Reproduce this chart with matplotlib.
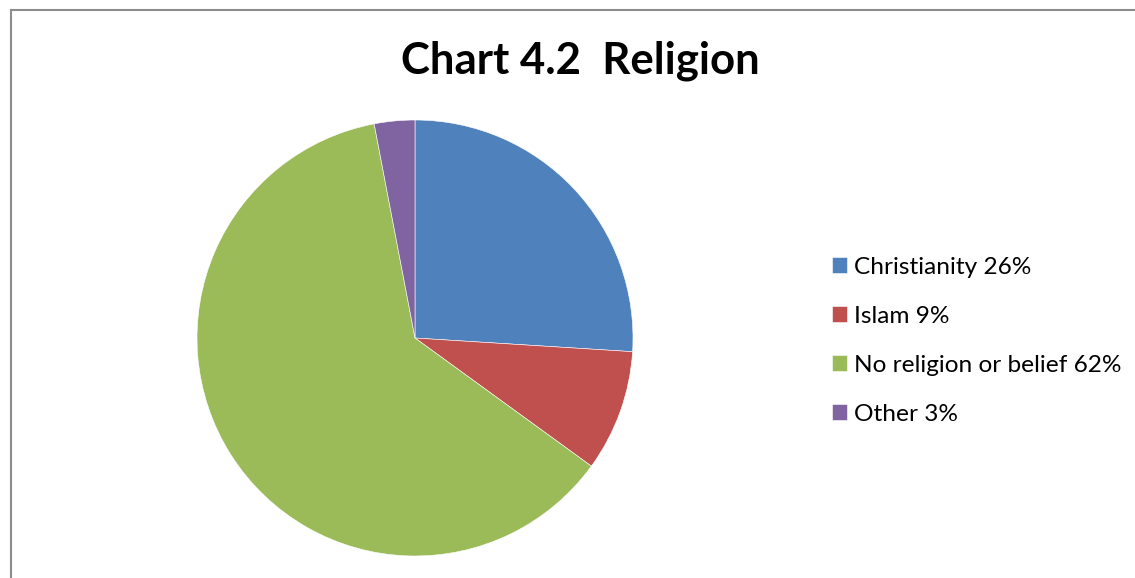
import matplotlib
matplotlib.use("Agg")
import matplotlib.pyplot as plt
from matplotlib.lines import Line2D

categories = ["Christianity", "Islam", "No religion or belief", "Other"]
values = [26, 9, 62, 3]
colors = ["#4F81BD", "#C0504D", "#9BBB59", "#8064A2"]
title = "Chart 4.2  Religion"
labels = [f"{c} {v}%" for c, v in zip(categories, values)]

W, H = 1135, 578
fig = plt.figure(figsize=(W / 100, H / 100), dpi=100)
fig.patch.set_facecolor("white")

# pie axes in pixel coordinates
cx, cy, r = 415, 338, 218
ax = fig.add_axes([(cx - r) / W, (H - cy - r) / H, 2 * r / W, 2 * r / H])
wedges, _ = ax.pie(values, colors=colors, startangle=90, counterclock=False,
                   radius=1.0, wedgeprops=dict(edgecolor="white", linewidth=0.4))
ax.set_xlim(-1, 1)
ax.set_ylim(-1, 1)
ax.set_aspect("equal")
ax.axis("off")

# title
fig.text(580 / W, 1 - 61 / H, title, ha="center", va="center",
         fontsize=31.5, fontweight="bold", family="Lato", color="black")

# legend
leg = fig.legend(wedges, labels, loc="upper left",
                 bbox_to_anchor=(832 / W, 1 - 257 / H),
                 frameon=False, prop=dict(family="Lato", size=17.6),
                 handlelength=0.62, handleheight=0.62, handletextpad=0.3,
                 labelspacing=1.14, borderpad=0, borderaxespad=0)

# border
bc = "#8C8C8C"
fig.add_artist(Line2D([10.5 / W, 10.5 / W], [0, 1 - 9.5 / H], transform=fig.transFigure,
                      color=bc, linewidth=1.5))
fig.add_artist(Line2D([10.5 / W, 1], [1 - 9.5 / H, 1 - 9.5 / H], transform=fig.transFigure,
                      color=bc, linewidth=1.5))

fig.savefig("out.png", dpi=100)
